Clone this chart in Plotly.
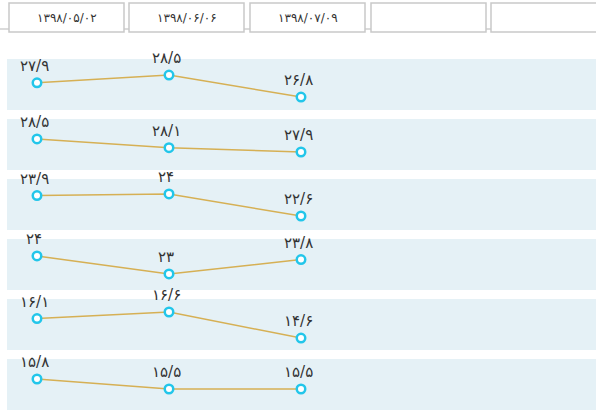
import plotly.graph_objects as go
from plotly.subplots import make_subplots

# ---- data ----
dates = ["۱۳۹۸/۰۵/۰۲", "۱۳۹۸/۰۶/۰۶", "۱۳۹۸/۰۷/۰۹", "", ""]
row1 = [27.9, 28.5, 26.8]
row2 = [28.5, 28.1, 27.9]
row3 = [23.9, 24.0, 22.6]
row4 = [24.0, 23.0, 23.8]
row5 = [16.1, 16.6, 14.6]
row6 = [15.8, 15.5, 15.5]
rows = [row1, row2, row3, row4, row5, row6]
x_idx = [0, 1, 2]

# per-row y ranges (axis layout)
y_ranges = [[25.8, 29.74], [27.07, 29.42], [21.71, 24.95],
            [22.11, 24.94], [13.68, 17.6], [14.87, 16.4]]

FA = str.maketrans("0123456789.", "۰۱۲۳۴۵۶۷۸۹/")


def fa(v):
    return f"{v:g}".translate(FA)


W, H = 596, 413
ML, MR, MT, MB = 7, 0, 59, 3
plot_h = H - MT - MB

fig = make_subplots(rows=6, cols=1, shared_xaxes=True,
                    vertical_spacing=9 / plot_h)

band = "#e5f1f6"
line_c = "#d6b054"
mark_c = "#22c6ea"

for i, vals in enumerate(rows):
    r = i + 1
    fig.add_trace(go.Scatter(
        x=x_idx, y=vals, mode="lines+markers",
        line=dict(color=line_c, width=1.5),
        marker=dict(size=8.5, color="white", line=dict(color=mark_c, width=2.5)),
        hoverinfo="skip", showlegend=False, cliponaxis=False), row=r, col=1)
    xa = "x" if r == 1 else f"x{r}"
    ya = "y" if r == 1 else f"y{r}"
    for xv, yv in zip(x_idx, vals):
        fig.add_annotation(x=xv, y=yv, xref=xa, yref=ya, text=fa(yv),
                           showarrow=False, yshift=17, xshift=-3,
                           font=dict(family="DejaVu Sans", size=15, color="#333333"))
    fig.update_yaxes(range=y_ranges[i], visible=False, fixedrange=True, row=r, col=1)
    fig.update_xaxes(range=[-30 / 132, (W - ML - MR - 30) / 132], visible=False,
                     row=r, col=1)

# header line
fig.add_shape(type="line", xref="paper", yref="paper", xsizemode="pixel",
              ysizemode="pixel", xanchor=0, yanchor=1,
              x0=-ML, x1=W, y0=MT - 29, y1=MT - 29,
              line=dict(color="#cfcfcf", width=1.5), layer="above")

# header boxes
box_left = [9, 129, 250, 371, 491]
box_w = 115
for bl, d in zip(box_left, dates):
    fig.add_shape(type="rect", xref="paper", yref="paper", xsizemode="pixel",
                  ysizemode="pixel", xanchor=0, yanchor=1,
                  x0=bl - ML, x1=bl - ML + box_w, y0=MT - 32, y1=MT - 3,
                  fillcolor="white", line=dict(color="#c9c9c9", width=1.5),
                  layer="above")
    if d:
        fig.add_annotation(xref="paper", yref="paper",
                           x=(bl + box_w / 2 - ML) / (W - ML - MR), y=1,
                           yshift=MT - 17.5, yanchor="middle", xanchor="center",
                           showarrow=False,
                           text=d, font=dict(family="DejaVu Sans", size=12, color="#333333"))

fig.update_layout(width=W, height=H,
                  margin=dict(l=ML, r=MR, t=MT, b=MB, autoexpand=False),
                  paper_bgcolor="white", plot_bgcolor=band)

fig.write_html("out.html",
               config={"displayModeBar": False, "staticPlot": True},
               post_script="document.body.style.margin='0';"
                           "document.body.style.overflow='hidden';")
